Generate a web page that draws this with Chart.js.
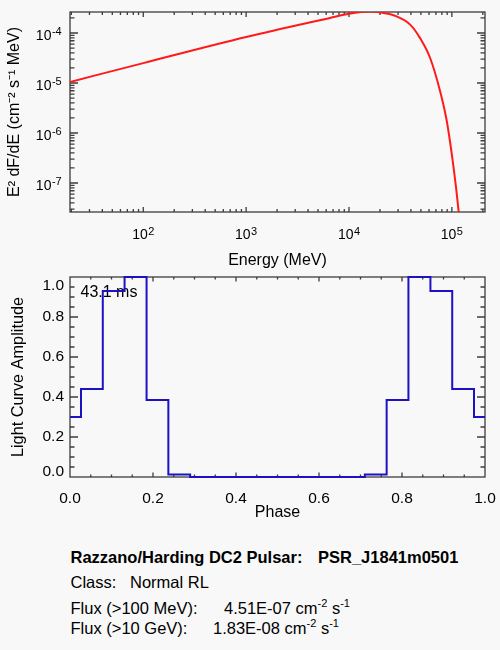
<!DOCTYPE html>
<html><head><meta charset="utf-8">
<script src="https://cdn.jsdelivr.net/npm/chart.js@4.4.0/dist/chart.umd.min.js"></script>
<style>
html,body{margin:0;padding:0;background:#f8f8f8;}
#wrap{position:relative;width:500px;height:650px;overflow:hidden;font-family:"Liberation Sans",Arial,sans-serif;color:#000;}
#c1{position:absolute;left:0;top:0;}
#c2{position:absolute;left:0;top:270px;}
.t{position:absolute;white-space:pre;font-size:16.5px;line-height:20px;}
.b{font-weight:bold;}
.t sup{font-size:11px;line-height:0;vertical-align:baseline;position:relative;top:-7px;}
</style></head><body>
<div id="wrap">
<canvas id="c1" width="500" height="270"></canvas>
<canvas id="c2" width="500" height="260"></canvas>
<div id="info"></div>
</div>
<script>
// ---- spectrum (top panel) ----
const energyMeV = [19.4, 100, 1000, 6540, 10000, 16000, 19100, 29100, 39300, 49100, 61500, 76900, 89400, 100000, 110000, 116000, 122000];
const e2dnde   = [1.05e-5, 2.5e-5, 8.3e-5, 2.0e-4, 2.43e-4, 2.7e-4, 2.63e-4, 2.15e-4, 1.47e-4, 7.9e-5, 3.16e-5, 6.8e-6, 1.7e-6, 3.7e-7, 7.9e-8, 2.9e-8, 1.2e-8];
const energyRange = [19.4, 2.1e5];
const fluxRange = [2.63e-8, 2.63e-4];

// ---- light curve (bottom panel) ----
const phase     = [0.000, 0.053, 0.105, 0.158, 0.211, 0.263, 0.316, 0.368, 0.421, 0.474, 0.526, 0.579, 0.632, 0.684, 0.737, 0.789, 0.842, 0.895, 0.947, 1.000];
const amplitude = [0.30, 0.44, 0.93, 1.00, 0.385, 0.012, 0, 0, 0, 0, 0, 0, 0, 0, 0.012, 0.385, 1.00, 0.93, 0.44, 0.30];
const phaseTickLabels = ['0.0', '0.2', '0.4', '0.6', '0.8', '1.0'];
const periodLabel = '43.1 ms';

// ---- info text ----
const infoTitle = ['Razzano/Harding DC2 Pulsar:', 'PSR_J1841m0501'];
const infoClass = ['Class:', 'Normal RL'];
const fluxLabels = ['Flux (>100 MeV):', 'Flux (>10 GeV):'];
const fluxValues = ['4.51E-07', '1.83E-08'];

const FONT = '"Liberation Sans", Arial, sans-serif';
const RED = '#ff1a1a';
const BLUE = '#1c12c4';
const FRAME = '#3c3c3c';

function logTicks(scale) {
  const t = [];
  const d0 = Math.floor(Math.log10(scale.min)), d1 = Math.ceil(Math.log10(scale.max));
  for (let d = d0; d <= d1; d++) {
    for (let m = 1; m <= 9; m++) {
      const v = m * Math.pow(10, d);
      if (v >= scale.min * 0.999 && v <= scale.max * 1.001) t.push({value: v, isMaj: m === 1});
    }
  }
  scale.ticks = t;
}
function linTicks(scale) {
  const t = [];
  for (let i = 0; i <= 20; i++) t.push({value: i / 20, isMaj: i % 4 === 0});
  scale.ticks = t;
}
const linLabel = (v, i, ticks) => ticks[i].isMaj ? phaseTickLabels[Math.round(v * 5)] : '';
const linLabelY = (v, i, ticks) => {
  if (!ticks[i].isMaj) return '';
  const s = phaseTickLabels[Math.round(v * 5)];
  if (Math.abs(v - 1) < 1e-9) return ['', s];
  if (Math.abs(v) < 1e-9) return [s, ''];
  return s;
};

function noPad(s) { s.paddingTop = 0; s.paddingBottom = 0; s.paddingLeft = 0; s.paddingRight = 0; }

const framePlugin = {
  id: 'idlframe',
  beforeDatasetsDraw(chart, args, opts) {
    const {ctx, chartArea: a, scales: {x, y}} = chart;
    ctx.save();
    ctx.strokeStyle = FRAME;
    ctx.lineWidth = 1.3;
    ctx.beginPath();
    x.ticks.forEach(t => {
      const px = x.getPixelForValue(t.value);
      if (px < a.left + 0.5 || px > a.right - 0.5) return;
      const len = t.isMaj ? opts.xMaj : opts.xMin;
      ctx.moveTo(px, a.bottom); ctx.lineTo(px, a.bottom - len);
      ctx.moveTo(px, a.top); ctx.lineTo(px, a.top + len);
    });
    y.ticks.forEach(t => {
      const py = y.getPixelForValue(t.value);
      if (py < a.top + 0.5 || py > a.bottom - 0.5) return;
      const len = t.isMaj ? opts.yMaj : opts.yMin;
      ctx.moveTo(a.left, py); ctx.lineTo(a.left + len, py);
      ctx.moveTo(a.right, py); ctx.lineTo(a.right - len, py);
    });
    ctx.stroke();
    ctx.strokeRect(a.left, a.top, a.right - a.left, a.bottom - a.top);
    ctx.fillStyle = '#000';
    if (opts.label) {
      ctx.font = '16px ' + FONT;
      ctx.textBaseline = 'middle';
      ctx.textAlign = 'left';
      ctx.fillText(opts.label, a.left + 10.5, a.top + 15.5);
    }
    if (opts.logLabels) {
      const main = '14px ' + FONT, sup = '11px ' + FONT;
      const parts = v => ['10', String(Math.round(Math.log10(v)))];
      ctx.textBaseline = 'alphabetic';
      ctx.textAlign = 'left';
      x.ticks.forEach(t => {
        if (!t.isMaj) return;
        const px = x.getPixelForValue(t.value);
        if (px < a.left - 1 || px > a.right + 1) return;
        const [m, e] = parts(t.value);
        ctx.font = main; const w1 = ctx.measureText(m).width;
        ctx.font = sup; const w2 = ctx.measureText(e).width;
        const x0 = px - (w1 + w2 + 0.5) / 2;
        ctx.font = main; ctx.fillText(m, x0, a.bottom + 27);
        ctx.font = sup; ctx.fillText(e, x0 + w1 + 0.5, a.bottom + 22.5);
      });
      y.ticks.forEach(t => {
        if (!t.isMaj) return;
        const py = y.getPixelForValue(t.value);
        if (py < a.top - 1 || py > a.bottom + 1) return;
        const [m, e] = parts(t.value);
        ctx.font = main; const w1 = ctx.measureText(m).width;
        ctx.font = sup; const w2 = ctx.measureText(e).width;
        const R = a.left - 8.3;
        ctx.font = main; ctx.fillText(m, R - w2 - 0.5 - w1, py + 6.7);
        ctx.font = sup; ctx.fillText(e, R - w2, py + 2.2);
      });
    }
    ctx.restore();
  }
};

const tickFont = (size) => ({family: FONT, size: size});
const noGrid = {display: false, drawTicks: false};

new Chart(document.getElementById('c1'), {
  type: 'line',
  data: {datasets: [{
    data: energyMeV.map((e, i) => ({x: e, y: e2dnde[i]})),
    borderColor: RED, borderWidth: 2, pointRadius: 0, fill: false,
    cubicInterpolationMode: 'monotone', clip: 0
  }]},
  options: {
    responsive: false, animation: false, events: [],
    layout: {padding: {left: 0, right: 15, top: 12, bottom: 0}},
    plugins: {legend: {display: false}, tooltip: {enabled: false},
      idlframe: {xMaj: 5, xMin: 3, yMaj: 8, yMin: 4.5, logLabels: true}},
    scales: {
      x: {type: 'logarithmic', min: energyRange[0], max: energyRange[1],
        grid: noGrid, border: {display: false},
        afterBuildTicks: logTicks,
        afterFit: s => { s.height = 58; noPad(s); },
        ticks: {display: false, autoSkip: false, maxRotation: 0, minRotation: 0},
        title: {display: true, text: 'Energy (MeV)', color: '#000', font: {family: FONT, size: 16}, padding: {top: 0, bottom: -0.5}}
      },
      y: {type: 'logarithmic', min: fluxRange[0], max: fluxRange[1],
        grid: noGrid, border: {display: false},
        afterBuildTicks: logTicks,
        afterFit: s => { s.width = 70; noPad(s); },
        ticks: {display: false, autoSkip: false},
        title: {display: true, text: 'E\u00B2 dF/dE (cm\u207B\u00B2 s\u207B\u00B9 MeV)', color: '#000', font: {family: FONT, size: 16}, padding: {top: 5.4, bottom: 0}}
      }
    }
  },
  plugins: [framePlugin]
});

new Chart(document.getElementById('c2'), {
  type: 'line',
  data: {datasets: [{
    data: phase.map((p, i) => ({x: p, y: amplitude[i]})),
    borderColor: BLUE, borderWidth: 2, pointRadius: 0, fill: false,
    stepped: 'middle', clip: 2
  }]},
  options: {
    responsive: false, animation: false, events: [],
    layout: {padding: {left: 0, right: 15, top: 7, bottom: 0}},
    plugins: {legend: {display: false}, tooltip: {enabled: false},
      idlframe: {xMaj: 4.5, xMin: 2.5, yMaj: 8, yMin: 4.5, label: periodLabel}},
    scales: {
      x: {type: 'linear', min: 0, max: 1,
        grid: noGrid, border: {display: false},
        afterBuildTicks: linTicks,
        afterFit: s => { s.height = 53; noPad(s); },
        ticks: {autoSkip: false, maxRotation: 0, minRotation: 0, padding: 12.7, color: '#000', font: tickFont(15.5), callback: linLabel},
        title: {display: true, text: 'Phase', color: '#000', font: {family: FONT, size: 16}, padding: {top: 0, bottom: 7.7}}
      },
      y: {type: 'linear', min: 0, max: 1,
        grid: noGrid, border: {display: false},
        afterBuildTicks: linTicks,
        afterFit: s => { s.width = 70; noPad(s); },
        ticks: {autoSkip: false, padding: 6, color: '#000',
          font: c => ({family: FONT, size: 15.5, lineHeight: (c.tick && Math.abs(c.tick.value) < 1e-9) ? '10px' : '16.8px'}),
          callback: linLabelY},
        title: {display: true, text: 'Light Curve Amplitude', color: '#000', font: {family: FONT, size: 16.3}, padding: {top: 8.4, bottom: 0}}
      }
    }
  },
  plugins: [framePlugin]
});

// ---- info block ----
const info = document.getElementById('info');
function addText(html, left, centerY, cls) {
  const d = document.createElement('div');
  d.className = 't' + (cls ? ' ' + cls : '');
  d.style.left = left + 'px';
  d.style.top = (centerY - 10) + 'px';
  d.innerHTML = html;
  info.appendChild(d);
}
const unitHtml = ' cm<sup>-2</sup> s<sup>-1</sup>';
const esc = s => s.replace(/&/g, '&amp;').replace(/</g, '&lt;').replace(/>/g, '&gt;');
addText(esc(infoTitle[0]), 70.5, 556.7, 'b');
addText(esc(infoTitle[1]), 318, 556.7, 'b');
addText(esc(infoClass[0]), 70.5, 582.3);
addText(esc(infoClass[1]), 130, 582.3);
addText(esc(fluxLabels[0]), 70.5, 608.3);
addText(esc(fluxValues[0]) + unitHtml, 224, 608.3);
addText(esc(fluxLabels[1]), 70.5, 628.3);
addText(esc(fluxValues[1]) + unitHtml, 213, 628.3);
</script>
</body></html>
